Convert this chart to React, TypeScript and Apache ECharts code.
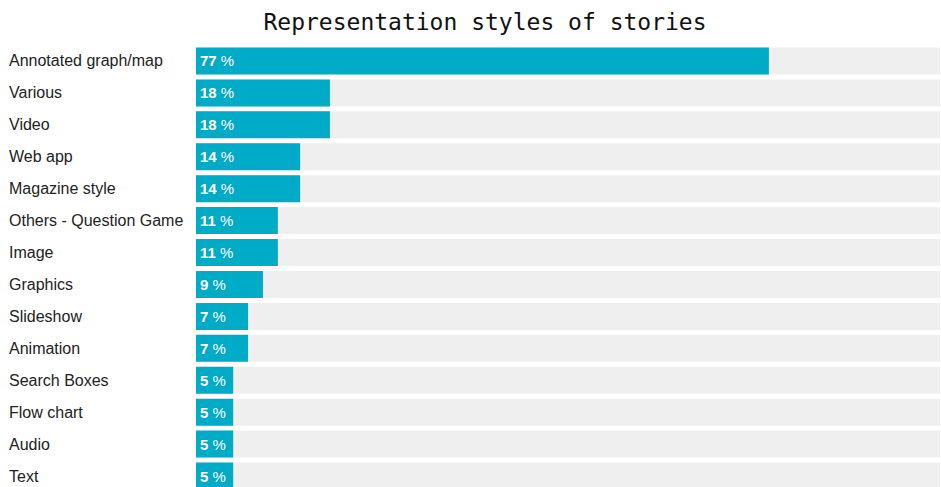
import React, { useEffect, useRef } from "react";
import * as echarts from "echarts";

const categories = [
  "Annotated graph/map",
  "Various",
  "Video",
  "Web app",
  "Magazine style",
  "Others - Question Game",
  "Image",
  "Graphics",
  "Slideshow",
  "Animation",
  "Search Boxes",
  "Flow chart",
  "Audio",
  "Text",
];
const values = [77, 18, 18, 14, 14, 11, 11, 9, 7, 7, 5, 5, 5, 5];
const titleText = "Representation styles of stories";

export default function App() {
  const ref = useRef<HTMLDivElement>(null);
  useEffect(() => {
    if (!ref.current) return;
    const chart = echarts.init(ref.current, undefined, { renderer: "svg" });
    chart.setOption({
      animation: false,
      backgroundColor: "#ffffff",
      title: {
        text: titleText,
        left: 480,
        textAlign: "center",
        top: 5,
        textStyle: {
          fontFamily: "DejaVu Sans Mono",
          fontSize: 23,
          fontWeight: "normal",
          color: "#111111",
        },
      },
      grid: { left: 196, right: 1, top: 45, bottom: 0, containLabel: false },
      xAxis: {
        type: "value",
        min: 0,
        max: 100,
        show: false,
      },
      yAxis: {
        type: "category",
        data: categories,
        inverse: true,
        axisLine: { show: false },
        axisTick: { show: false },
        splitLine: { show: false },
        axisLabel: {
          align: "left",
          margin: 187,
          fontFamily: "Liberation Sans, Arial, sans-serif",
          fontSize: 16,
          color: "#222222",
        },
      },
      series: [
        {
          type: "bar",
          data: values,
          barWidth: 27,
          showBackground: true,
          backgroundStyle: { color: "#efefef" },
          itemStyle: { color: "#00abc8" },
          label: {
            show: true,
            position: "insideLeft",
            distance: 4,
            formatter: (p: any) => `{b|${p.value}}{p| %}`,
            rich: {
              b: {
                fontFamily: "Liberation Sans, Arial, sans-serif",
                fontSize: 15,
                fontWeight: "bold",
                color: "#ffffff",
              },
              p: {
                fontFamily: "Liberation Sans, Arial, sans-serif",
                fontSize: 15,
                color: "#ffffff",
              },
            },
          },
        },
      ],
    });
    return () => chart.dispose();
  }, []);
  return (
    <div
      ref={ref}
      style={{ position: "fixed", left: 0, top: 0, width: 941, height: 492 }}
    />
  );
}
